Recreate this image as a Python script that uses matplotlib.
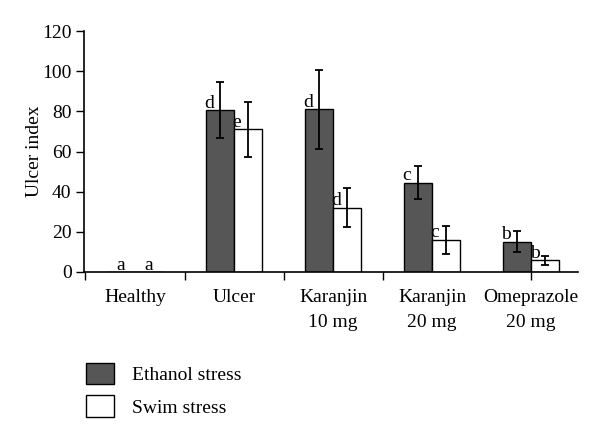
import matplotlib
matplotlib.use("Agg")
import matplotlib.pyplot as plt
import numpy as np
from matplotlib.patches import Patch

categories = ["Healthy", "Ulcer", "Karanjin\n10 mg", "Karanjin\n20 mg", "Omeprazole\n20 mg"]
series_names = ["Ethanol stress", "Swim stress"]
ethanol = [0, 80.5, 81, 44.5, 15]
ethanol_err = [0, 14, 19.5, 8.3, 5.2]
swim = [0, 71, 32, 16, 5.8]
swim_err = [0, 13.5, 9.7, 7, 2.2]
ethanol_letters = ["a", "d", "d", "c", "b"]
swim_letters = ["a", "e", "d", "c", "b"]
yticks = [0, 20, 40, 60, 80, 100, 120]

FS = 14
plt.rcParams['font.family'] = ['Liberation Serif', 'DejaVu Serif']
fig = plt.figure(figsize=(6, 4.38), dpi=100)
ax = fig.add_axes([0.14, 0.379, 0.823, 0.55])

x = np.arange(len(categories))
w = 0.285
dark = '#565656'
ax.bar(x - w/2, ethanol, w, color=dark, edgecolor='black', linewidth=1, zorder=2)
ax.bar(x + w/2, swim, w, color='white', edgecolor='black', linewidth=1, zorder=2)
mask = np.array(ethanol) > 0
ax.errorbar((x - w/2)[mask], np.array(ethanol)[mask], yerr=np.array(ethanol_err)[mask],
            fmt='none', ecolor='black', elinewidth=1.3, capsize=3, capthick=1.3, zorder=3)
mask2 = np.array(swim) > 0
ax.errorbar((x + w/2)[mask2], np.array(swim)[mask2], yerr=np.array(swim_err)[mask2],
            fmt='none', ecolor='black', elinewidth=1.3, capsize=3, capthick=1.3, zorder=3)

for i in range(len(categories)):
    for val, lab, off in ((ethanol[i], ethanol_letters[i], -w/2), (swim[i], swim_letters[i], w/2)):
        if val == 0:
            ax.text(x[i] + off, 1.2, lab, ha='center', va='baseline', fontsize=FS, zorder=4)
        else:
            ax.text(x[i] + off - w/2 - 0.015, val + 1.2, lab, ha='left', va='baseline',
                    fontsize=FS, zorder=4)

ax.set_ylim(0, 120)
ax.set_xlim(-0.515, 4.47)
ax.set_yticks(yticks)
ax.tick_params(axis='y', direction='out', length=6, width=1, labelsize=FS, pad=3)
ax.set_xticks([-0.5, 0.5, 1.5, 2.5, 4.0])
ax.set_xticklabels([])
ax.tick_params(axis='x', direction='out', length=6, width=1)
for i, c in enumerate(categories):
    ax.text(x[i], -8.5, c, ha='center', va='top', fontsize=FS, linespacing=1.6,
            transform=ax.transData)
for s in ['top', 'right']:
    ax.spines[s].set_visible(False)
for s in ['left', 'bottom']:
    ax.spines[s].set_linewidth(1.2)
ax.set_ylabel("Ulcer index", fontsize=FS)
ax.yaxis.set_label_coords(-0.083, 0.5)

handles = [Patch(facecolor=dark, edgecolor='black', linewidth=1, label=series_names[0]),
           Patch(facecolor='white', edgecolor='black', linewidth=1, label=series_names[1])]
fig.legend(handles=handles, loc='upper left', bbox_to_anchor=(0.143, 0.172), frameon=False,
           fontsize=FS, handlelength=1.45, handleheight=1.35, labelspacing=0.55, handletextpad=0.93,
           borderaxespad=0, borderpad=0)

fig.savefig("out.png", dpi=100)
